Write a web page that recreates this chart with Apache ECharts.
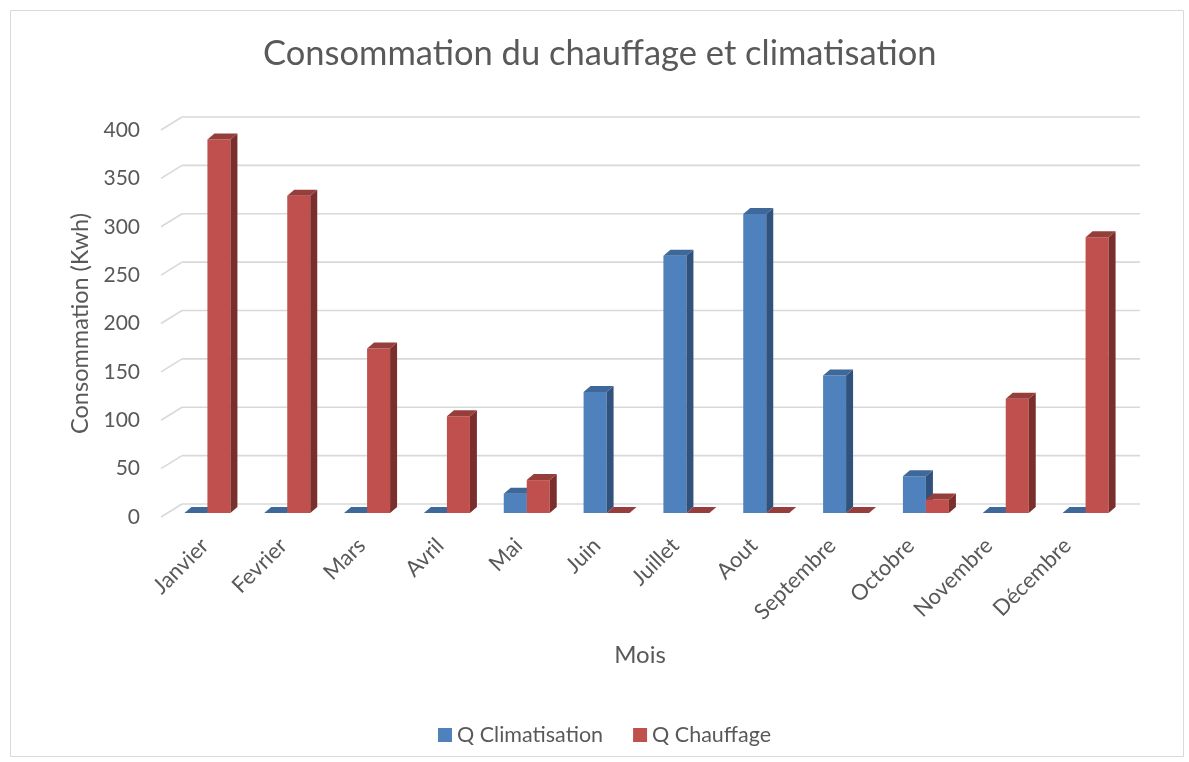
<!DOCTYPE html>
<html>
<head>
<meta charset="utf-8">
<script src="https://cdn.jsdelivr.net/npm/echarts@6/dist/echarts.min.js"></script>
<style>
  html, body { margin: 0; padding: 0; background: #fff; }
  #chart { width: 1189px; height: 762px; }
</style>
</head>
<body>
<div id="chart"></div>
<script>
// Monthly consumption (kWh)
const months = ['Janvier', 'Fevrier', 'Mars', 'Avril', 'Mai', 'Juin', 'Juillet', 'Aout', 'Septembre', 'Octobre', 'Novembre', 'Décembre'];
const climatisation = [0, 0, 0, 0, 20, 125, 266, 309, 142, 38, 0, 0];
const chauffage = [386, 328, 170, 100, 34, 0, 0, 0, 0, 14, 118, 285];
const yTicks = [0, 50, 100, 150, 200, 250, 300, 350, 400];

const FONT = 'Lato, "Noto Sans", sans-serif';
const TEXT = '#595959';
const GRID_COLOR = '#d9d9d9';
// back-wall offset of the pseudo-3D box and column geometry
const WALL = { dx: 21, dy: -13 };
const BAR = { ox: 6.5, oy: -4, w: 23, dx: 7, dy: -6 };

const BLUE = { front: '#4f81bd', side: '#30527c', top: '#3d6899' };
const RED = { front: '#c0504d', side: '#7b2f2d', top: '#963e3b' };

function wallRender(params, api) {
  const cs = params.coordSys;
  const y = api.coord([0, api.value(1)])[1];
  const x0 = cs.x, x1 = cs.x + cs.width;
  const style = { stroke: GRID_COLOR, lineWidth: 1.6 };
  return {
    type: 'group',
    children: [
      { type: 'line', shape: { x1: x0, y1: y, x2: x0 + WALL.dx, y2: y + WALL.dy }, style },
      { type: 'line', shape: { x1: x0 + WALL.dx, y1: y + WALL.dy, x2: x1 + WALL.dx, y2: y + WALL.dy }, style }
    ]
  };
}

function barRender(side, c) {
  return function (params, api) {
    const i = api.value(0), v = api.value(1);
    const base = api.coord([i, 0]);
    const top = api.coord([i, v]);
    const cx = base[0] + BAR.ox;
    const x0 = side < 0 ? cx - BAR.w : cx;
    const x1 = x0 + BAR.w;
    const yb = base[1] + BAR.oy, yt = top[1] + BAR.oy;
    const dx = BAR.dx, dy = BAR.dy;
    return {
      type: 'group',
      children: [
        { type: 'polygon', shape: { points: [[x0, yt], [x1, yt], [x1, yb], [x0, yb]] }, style: { fill: c.front } },
        { type: 'polygon', shape: { points: [[x1, yt], [x1 + dx, yt + dy], [x1 + dx, yb + dy], [x1, yb]] }, style: { fill: c.side } },
        { type: 'polygon', shape: { points: [[x0, yt], [x1, yt], [x1 + dx, yt + dy], [x0 + dx, yt + dy]] }, style: { fill: c.top } }
      ]
    };
  };
}

const chart = echarts.init(document.getElementById('chart'), null, { renderer: 'canvas' });

chart.setOption({
  backgroundColor: '#ffffff',
  animation: false,
  textStyle: { fontFamily: FONT },
  graphic: [{
    type: 'rect', left: 8, top: 8, silent: true,
    shape: { width: 1173, height: 746 },
    style: { fill: 'none', stroke: GRID_COLOR, lineWidth: 1 }
  }],
  title: {
    text: 'Consommation du chauffage et climatisation',
    left: 258, top: 31,
    textStyle: { fontFamily: FONT, fontSize: 34.5, fontWeight: 'normal', color: TEXT }
  },
  legend: {
    data: ['Q Climatisation', 'Q Chauffage'],
    top: 719, left: 433,
    icon: 'rect', itemWidth: 14, itemHeight: 14, itemGap: 30,
    textStyle: { fontFamily: FONT, fontSize: 21.5, color: TEXT }
  },
  grid: [
    // plotting box (front plane)
    { left: 161, right: 70, top: 130, bottom: 245 },
    // month labels along the floor edge, slightly foreshortened
    { left: 165.8, right: 82.4, top: 130, bottom: 245 }
  ],
  xAxis: [
    {
      type: 'category', gridIndex: 0,
      data: months,
      name: 'Mois', nameLocation: 'middle', nameGap: 126,
      nameTextStyle: { fontFamily: FONT, fontSize: 24, color: TEXT },
      axisLine: { show: false }, axisTick: { show: false },
      axisLabel: { show: false },
      splitLine: { show: false }
    },
    {
      type: 'category', gridIndex: 1,
      data: months,
      axisLine: { show: false }, axisTick: { show: false },
      axisLabel: { interval: 0, rotate: 45, margin: 25, fontSize: 22, color: TEXT, fontFamily: FONT },
      splitLine: { show: false }
    }
  ],
  yAxis: [
    {
      type: 'value', gridIndex: 0, min: 0, max: 400, interval: 50,
      name: 'Consommation (Kwh)', nameLocation: 'middle', nameGap: 68,
      nameTextStyle: { fontFamily: FONT, fontSize: 23.5, color: TEXT },
      axisLine: { show: false }, axisTick: { show: false },
      axisLabel: { margin: 21, fontSize: 21, color: TEXT, fontFamily: FONT },
      splitLine: { show: false }
    },
    {
      type: 'value', gridIndex: 1, min: 0, max: 400, show: false
    }
  ],
  series: [
    {
      type: 'custom', name: 'walls', silent: true, z: 1,
      renderItem: wallRender,
      data: yTicks.map(v => [0, v]),
      encode: { x: 0, y: 1 }
    },
    {
      type: 'custom', name: 'Q Climatisation', z: 2,
      itemStyle: { color: BLUE.front },
      renderItem: barRender(-1, BLUE),
      data: climatisation.map((v, i) => [i, v]),
      encode: { x: 0, y: 1 }
    },
    {
      type: 'custom', name: 'Q Chauffage', z: 3,
      itemStyle: { color: RED.front },
      renderItem: barRender(1, RED),
      data: chauffage.map((v, i) => [i, v]),
      encode: { x: 0, y: 1 }
    }
  ]
});
</script>
</body>
</html>
